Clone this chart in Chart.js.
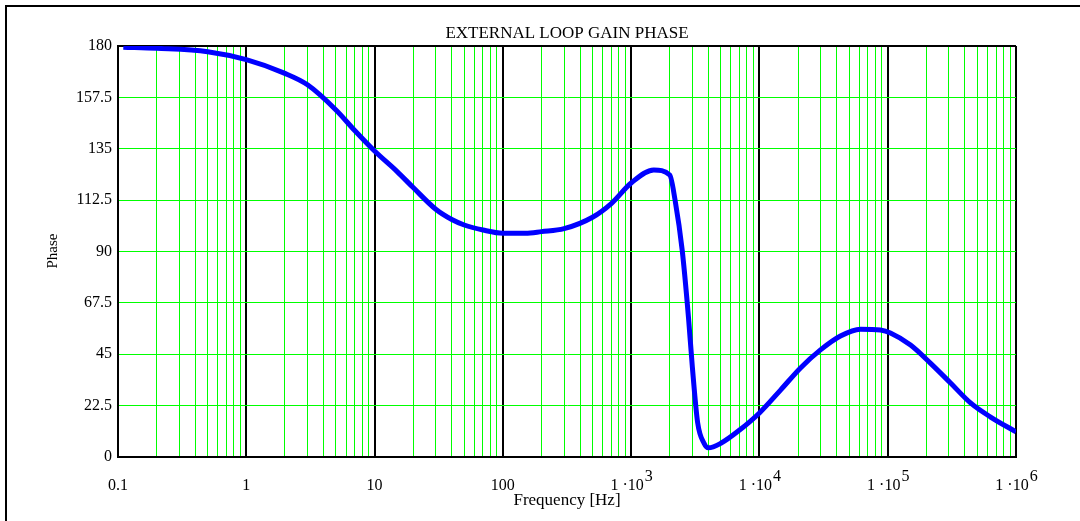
<!DOCTYPE html>
<html lang="en">
<head>
    <meta charset="UTF-8">
    <title>External Loop Gain Phase</title>
    <style>
        html, body { margin: 0; padding: 0; background: #fff; }
        #phaseChart { display: block; }
    </style>
</head>
<body>
<canvas id="phaseChart" width="1080" height="521"></canvas>

<script src="https://cdn.jsdelivr.net/npm/chart.js"></script>
<script>
// Curve (frequency in Hz, phase in degrees)
const freqHz = [0.11, 0.2, 0.5, 1, 2, 3, 5, 7, 10, 15, 20, 30, 40, 50, 70, 100, 150, 200, 300, 500, 700,
    1000, 1500, 2000, 2200, 2500, 2800, 3000, 3300, 3700, 4000, 5000, 7000, 10000, 14600, 20900,
    29900, 42800, 61300, 87800, 105000, 150600, 216000, 309000, 442000, 634000, 1000000];
const phaseDeg = [179.5, 179, 177.5, 174, 168, 163, 152, 143, 134, 125, 118, 108.5, 104, 101.6, 99.4, 98, 98, 98.7, 100, 105, 111,
    120, 125.7, 123.5, 112.5, 90.6, 61, 39.4, 15, 6, 4, 6, 11.8, 19.3, 29.3, 39, 46.9, 53, 56, 55.6, 54.3, 49, 41,
    32.4, 23.7, 17.5, 11];

// Axis ticks
const decades = [0.1, 1, 10, 100, 1000, 10000, 100000, 1000000];
const decadeLabels = ['0.1', '1', '10', '100', '1 ·10|3', '1 ·10|4', '1 ·10|5', '1 ·10|6'];
const yTicks = [0, 22.5, 45, 67.5, 90, 112.5, 135, 157.5, 180];

const GREEN = '#00ff00';
const FAMILY = '"Liberation Serif", "DejaVu Serif", serif';

// every 1..9 x 10^n between first and last decade
const xTickValues = [];
decades.forEach((d, i) => {
    if (i === decades.length - 1) { xTickValues.push(d); return; }
    for (let k = 1; k <= 9; k++) xTickValues.push(+(d * k).toPrecision(6));
});

function isDecade(v) {
    const l = Math.log10(v);
    return Math.abs(l - Math.round(l)) < 1e-9;
}

// titles, frame and the x labels with raised exponents
const textPlugin = {
    id: 'texts',
    beforeDraw(chart) {
        const ctx = chart.ctx;
        ctx.save();
        ctx.strokeStyle = '#000';
        ctx.lineWidth = 2;
        ctx.beginPath();
        ctx.moveTo(6, 521);
        ctx.lineTo(6, 6);
        ctx.lineTo(1080, 6);
        ctx.stroke();
        ctx.restore();
    },
    afterDraw(chart) {
        const ctx = chart.ctx;
        const xs = chart.scales.x;
        ctx.save();
        ctx.fillStyle = '#000';
        ctx.font = '16px ' + FAMILY;
        ctx.textBaseline = 'alphabetic';

        decades.forEach((v, i) => {
            const px = xs.getPixelForValue(v);
            const parts = decadeLabels[i].split('|');
            const base = parts[0];
            const exp = parts[1] || '';
            const wb = ctx.measureText(base).width;
            const we = exp ? ctx.measureText(exp).width : 0;
            const start = px - (wb + we) / 2;
            ctx.textAlign = 'left';
            ctx.fillText(base, start, 490);
            if (exp) ctx.fillText(exp, start + wb + 1, 481);
        });

        ctx.font = '17px ' + FAMILY;
        ctx.textAlign = 'center';
        ctx.fillText('Frequency [Hz]', 567, 505);
        ctx.fillText('EXTERNAL LOOP GAIN PHASE', 567, 38);

        ctx.font = '15px ' + FAMILY;
        ctx.translate(53, 251);
        ctx.rotate(-Math.PI / 2);
        ctx.textBaseline = 'middle';
        ctx.fillText('Phase', 0, 0);
        ctx.restore();
    }
};

new Chart(document.getElementById('phaseChart'), {
    type: 'line',
    data: {
        datasets: [{
            data: freqHz.map((f, i) => ({ x: f, y: phaseDeg[i] })),
            borderColor: '#0000ff',
            borderWidth: 5,
            pointRadius: 0,
            fill: false,
            cubicInterpolationMode: 'monotone'
        }]
    },
    options: {
        responsive: false,
        animation: false,
        layout: { padding: { top: 46, right: 64, left: 0, bottom: 0 } },
        plugins: {
            legend: { display: false },
            tooltip: { enabled: false }
        },
        scales: {
            x: {
                type: 'logarithmic',
                min: 0.1,
                max: 1000000,
                afterBuildTicks: (scale) => {
                    scale.ticks = xTickValues.map(v => ({ value: v }));
                },
                afterFit: (scale) => { scale.height = 64; },
                ticks: { display: false },
                grid: {
                    drawTicks: false,
                    color: (c) => isDecade(c.tick.value) ? '#000' : GREEN,
                    lineWidth: (c) => isDecade(c.tick.value) ? 2 : 1
                },
                border: { color: '#000', width: 2 }
            },
            y: {
                min: 0,
                max: 180,
                afterBuildTicks: (scale) => {
                    scale.ticks = yTicks.map(v => ({ value: v }));
                },
                afterFit: (scale) => { scale.width = 118; },
                ticks: {
                    color: '#000',
                    padding: 6,
                    font: { family: FAMILY, size: 16 },
                    callback: (v) => String(v)
                },
                grid: {
                    drawTicks: false,
                    color: (c) => (c.tick.value === 0 || c.tick.value === 180) ? '#000' : GREEN,
                    lineWidth: (c) => (c.tick.value === 0 || c.tick.value === 180) ? 2 : 1
                },
                border: { color: '#000', width: 2 }
            }
        }
    },
    plugins: [textPlugin]
});
</script>
</body>
</html>
